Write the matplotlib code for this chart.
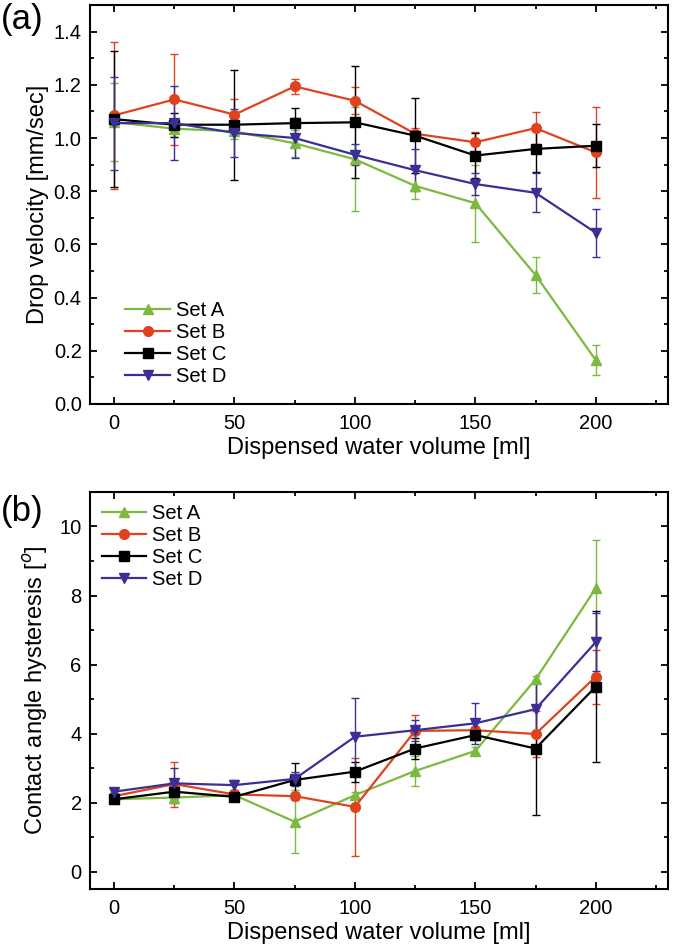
import matplotlib.pyplot as plt
from matplotlib.ticker import MultipleLocator

plt.rcParams['font.family'] = ['Liberation Sans', 'DejaVu Sans']

volume = [0, 25, 50, 75, 100, 125, 150, 175, 200]
names = ['Set A', 'Set B', 'Set C', 'Set D']
colors = ['#7cb93e', '#e0421f', '#000000', '#3b2f95']
markers = ['^', 'o', 's', 'v']

# (a) drop velocity [mm/sec]
vel_a = [1.06, 1.035, 1.025, 0.98, 0.92, 0.82, 0.755, 0.485, 0.165]
vel_b = [1.085, 1.145, 1.088, 1.194, 1.14, 1.016, 0.984, 1.037, 0.946]
vel_c = [1.071, 1.05, 1.05, 1.056, 1.059, 1.009, 0.934, 0.959, 0.971]
vel_d = [1.056, 1.056, 1.019, 1.0, 0.937, 0.879, 0.827, 0.794, 0.644]
vel_err_a = [0.145, 0.03, 0.03, 0.05, 0.195, 0.05, 0.145, 0.068, 0.057]
vel_err_b = [0.275, 0.17, 0.06, 0.027, 0.05, 0.02, 0.04, 0.06, 0.17]
vel_err_c = [0.256, 0.045, 0.206, 0.055, 0.21, 0.14, 0.085, 0.088, 0.08]
vel_err_d = [0.175, 0.14, 0.09, 0.075, 0.04, 0.08, 0.04, 0.073, 0.09]

# (b) contact angle hysteresis [deg]
cah_a = [2.1, 2.15, 2.22, 1.45, 2.22, 2.92, 3.5, 5.57, 8.21]
cah_b = [2.19, 2.54, 2.24, 2.19, 1.88, 4.08, 4.1, 3.99, 5.65]
cah_c = [2.1, 2.32, 2.17, 2.66, 2.9, 3.57, 3.96, 3.57, 5.36]
cah_d = [2.32, 2.56, 2.51, 2.69, 3.91, 4.1, 4.3, 4.71, 6.65]
cah_err_a = [0.1, 0.1, 0.1, 0.92, 0.1, 0.43, 0.1, 0.1, 1.4]
cah_err_b = [0.1, 0.65, 0.05, 0.1, 1.42, 0.46, 0.1, 0.66, 0.78]
cah_err_c = [0.1, 0.33, 0.05, 0.48, 0.29, 0.3, 0.15, 1.93, 2.19]
cah_err_d = [0.1, 0.44, 0.15, 0.2, 1.13, 0.3, 0.6, 0.75, 0.84]

fig = plt.figure(figsize=(6.75, 9.47), dpi=100)
ax1 = fig.add_axes([0.1333, 0.5734, 0.8563, 0.4213])
ax2 = fig.add_axes([0.1333, 0.0612, 0.8563, 0.4193])


def draw(ax, ys, errs):
    lines = []
    for y, e, c, m, n in zip(ys, errs, colors, markers, names):
        cont = ax.errorbar(volume, y, yerr=e, color=c, marker=m, ms=7, lw=1.6,
                           elinewidth=1.0, capsize=3, capthick=1.0)
        lines.append(cont[0])
    ax.set_xlim(-10, 230)
    ax.xaxis.set_major_locator(MultipleLocator(50))
    ax.xaxis.set_minor_locator(MultipleLocator(25))
    ax.tick_params(which='both', direction='in', top=True, right=True,
                   labelsize=14.5, width=1.3)
    ax.tick_params(which='major', length=5)
    ax.tick_params(which='minor', length=3)
    ax.tick_params(axis='x', pad=7)
    ax.tick_params(axis='y', pad=6)
    for s in ax.spines.values():
        s.set_linewidth(1.5)
    ax.set_xlabel('Dispensed water volume [ml]', fontsize=17, labelpad=3)
    return lines


h1 = draw(ax1, [vel_a, vel_b, vel_c, vel_d],
          [vel_err_a, vel_err_b, vel_err_c, vel_err_d])
ax1.set_ylim(0, 1.5)
ax1.yaxis.set_major_locator(MultipleLocator(0.2))
ax1.yaxis.set_minor_locator(MultipleLocator(0.1))
ax1.yaxis.set_major_formatter(plt.FormatStrFormatter('%.1f'))
ax1.set_ylabel('Drop velocity [mm/sec]', fontsize=17, labelpad=3)
ax1.legend(h1, names, loc='lower left', frameon=False, fontsize=14.5,
           handlelength=2.2, handletextpad=0.3, labelspacing=0.15,
           borderaxespad=0.5, bbox_to_anchor=(0.03, 0.0))

h2 = draw(ax2, [cah_a, cah_b, cah_c, cah_d],
          [cah_err_a, cah_err_b, cah_err_c, cah_err_d])
ax2.set_ylim(-0.5, 11)
ax2.yaxis.set_major_locator(MultipleLocator(2))
ax2.yaxis.set_minor_locator(MultipleLocator(1))
ax2.set_ylabel('Contact angle hysteresis [$^o$]', fontsize=17, labelpad=7)
ax2.legend(h2, names, loc='upper left', frameon=False, fontsize=14.5,
           handlelength=2.2, handletextpad=0.3, labelspacing=0.15,
           borderaxespad=0.2)

fig.text(0.002, 0.979, '(a)', fontsize=25, va='center')
fig.text(0.002, 0.46, '(b)', fontsize=25, va='center')

fig.savefig('out.png', dpi=100)
